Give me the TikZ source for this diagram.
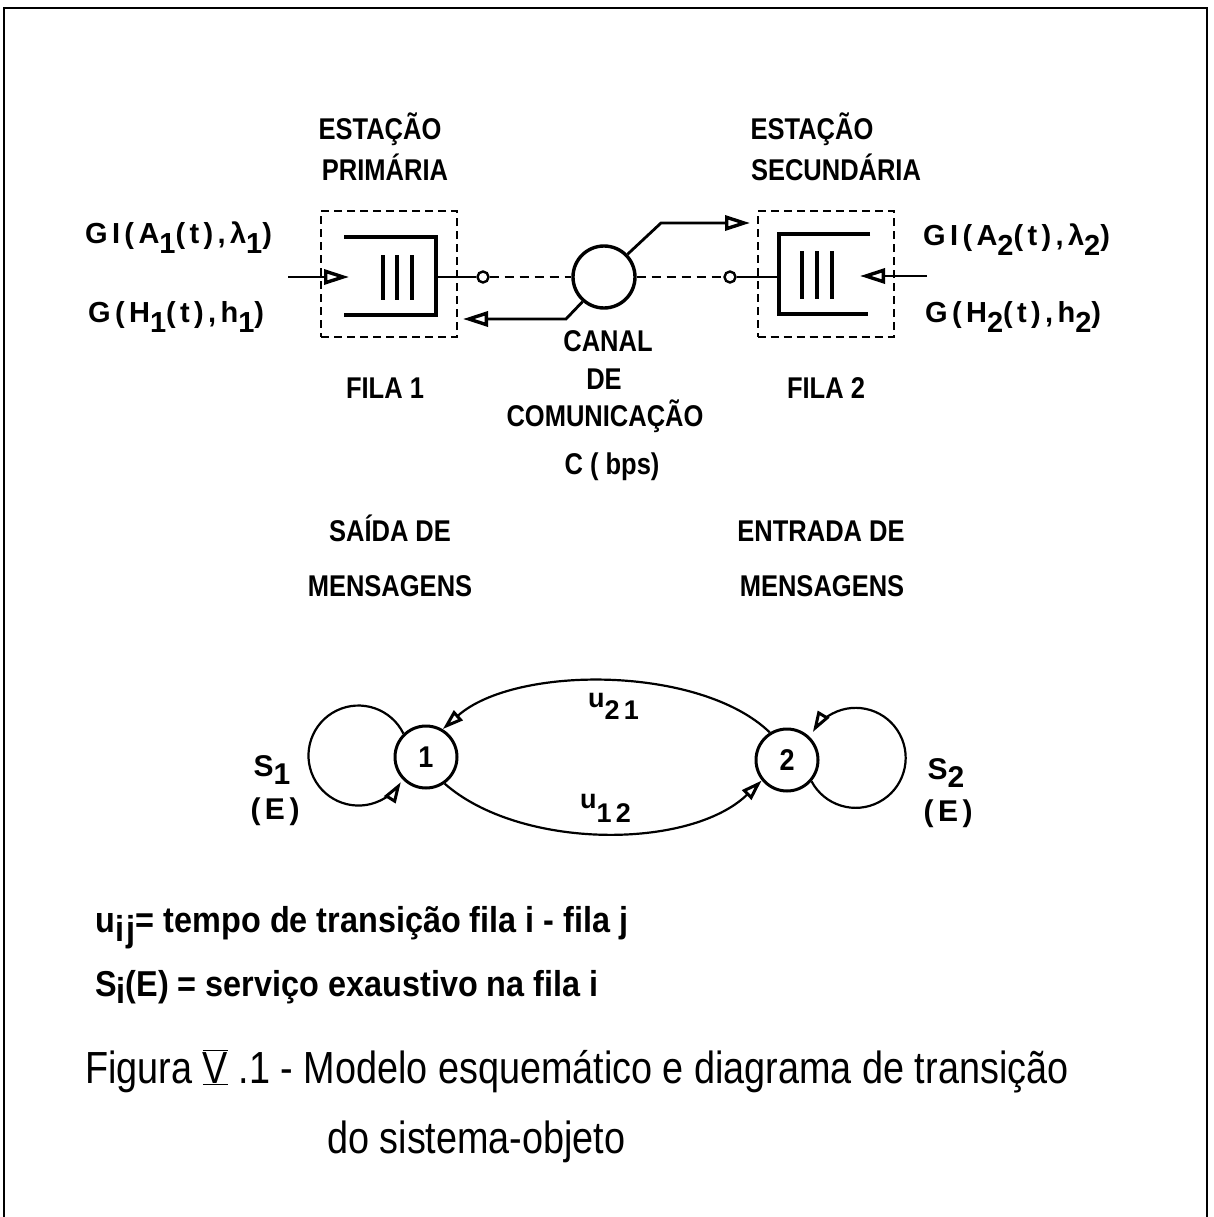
\documentclass[tikz,border=0pt]{standalone}
\usepackage{fontspec}
\setmainfont{Liberation Sans}
\newfontfamily\capsf[FakeStretch=0.85]{Liberation Sans}
\newfontfamily\labf[LetterSpace=15]{Liberation Sans}
\newfontfamily\legf[FakeStretch=0.9]{Liberation Sans}
\newfontfamily\capf[FakeStretch=0.84]{Liberation Sans}
\usetikzlibrary{arrows.meta}
\newcommand\lowr[2][10pt]{\raisebox{-#1}{#2}}
\tikzset{
  frameline/.style={line width=2.2pt},
  dashbox/.style={draw, dash pattern=on 8pt off 5pt, line width=2pt, minimum width=136pt, minimum height=126pt, inner sep=0pt},
  qline/.style={line width=3.4pt},
  thinl/.style={line width=2.8pt},
  statel/.style={line width=2.2pt},
  smallc/.style={circle, draw, line width=2.4pt, fill=white, minimum size=11pt, inner sep=0pt},
  chan/.style={circle, draw, line width=3.4pt, minimum size=62pt, inner sep=0pt},
  state/.style={circle, draw, line width=3pt, minimum size=62pt, inner sep=0pt, font=\legf\bfseries\fontsize{30pt}{34pt}\selectfont},
  arr/.style={-{Triangle[open, fill=white, length=25pt, width=15pt, line width=3.4pt]}},
  sarr/.style={-{Triangle[open, fill=white, length=21pt, width=13pt, line width=3pt]}},
  capl/.style={font=\capsf\bfseries\fontsize{30pt}{34pt}\selectfont, inner sep=0pt, anchor=base},
  labl/.style={font=\labf\bfseries\fontsize{29pt}{33pt}\selectfont, inner sep=0pt, anchor=base west},
  legl/.style={font=\legf\bfseries\fontsize{36pt}{40pt}\selectfont, inner sep=0pt, anchor=base west},
  capt/.style={font=\capf\fontsize{45pt}{50pt}\selectfont, inner sep=0pt, anchor=base west},
}
\begin{document}
\begin{tikzpicture}[x=1pt,y=1pt]
\useasboundingbox (0,-1217) rectangle (1213,0);
\draw[frameline] (4,-1217) -- (4,-8) -- (1207,-8) -- (1207,-1217);

% titles
\node[capl] (t1a) at (380,-140) {ESTAÇÃO};
\node[capl] (t1b) at (385,-181) {PRIMÁRIA};
\node[capl] (t2a) at (812,-140) {ESTAÇÃO};
\node[capl] (t2b) at (836,-181) {SECUNDÁRIA};

% boxes
\node[dashbox] (box1) at (389,-274) {};
\node[dashbox] (box2) at (825.5,-274) {};

% queue 1
\draw[qline] (344,-237) -- (436,-237) -- (436,-315) -- (344,-315);
\foreach \xx in {383,397,412} \draw[qline] (\xx,-255) -- (\xx,-300);
% queue 2
\draw[qline] (870,-234) -- (779,-234) -- (779,-314) -- (868,-314);
\foreach \xx in {802,817,832} \draw[qline] (\xx,-251) -- (\xx,-299);

% channel
\node[chan] (ch) at (604,-277) {};
\node[smallc] (o1) at (483,-277) {};
\node[smallc] (o2) at (730,-277) {};
\coordinate (q1out) at (436,-277);
\coordinate (q2in) at (779,-277);
\draw[thinl] (q1out) -- (o1);
\draw[thinl] (o2) -- (q2in);
\draw[line width=2.4pt, dash pattern=on 9pt off 6pt] (o1) -- (ch);
\draw[line width=2.4pt, dash pattern=on 9pt off 6pt] (ch) -- (o2);

\coordinate (in1) at (288,-277);
\coordinate (in1e) at (349,-277);
\draw[thinl, arr] (in1) -- (in1e);
\coordinate (in2) at (927,-276);
\coordinate (in2e) at (860,-276);
\draw[thinl, arr] (in2) -- (in2e);

\coordinate (up1) at (661,-223);
\coordinate (up2) at (750,-223);
\draw[thinl, arr] (ch.44) -- (up1) -- (up2);
\coordinate (dn1) at (566,-319);
\coordinate (dn2) at (463,-319);
\draw[thinl, arr] (ch.229) -- (dn1) -- (dn2);

% process labels
\node[labl] (g1) at (85,-243) {GI(A\lowr{1}(t),λ\lowr{1})};
\node[labl] (h1) at (88,-322) {G(H\lowr{1}(t),h\lowr{1})};
\node[labl] (g2) at (923,-245) {GI(A\lowr{2}(t),λ\lowr{2})};
\node[labl] (h2) at (925,-322) {G(H\lowr{2}(t),h\lowr{2})};

\node[capl] (f1) at (385,-398) {FILA 1};
\node[capl] (f2) at (826,-398) {FILA 2};
\node[capl] (c1) at (608,-351) {CANAL};
\node[capl] (c2) at (604,-389) {DE};
\node[capl] (c3) at (605,-426) {COMUNICAÇÃO};
\node[capl] (c4) at (612,-474) {C ( bps)};

\node[capl] (sa) at (390,-541) {SAÍDA DE};
\node[capl] (sb) at (390,-596) {MENSAGENS};
\node[capl] (ea) at (821,-541) {ENTRADA DE};
\node[capl] (eb) at (822,-596) {MENSAGENS};

% transition diagram
\node[state] (s1) at (426,-757) {1};
\node[state] (s2) at (787,-760) {2};
\draw[statel, sarr] (s2.122) .. controls (700,-665) and (515,-665) .. (s1.59);
\draw[statel, sarr] (s1.-55) .. controls (520,-850) and (690,-850) .. (s2.219);
\draw[statel, sarr] (s1.134) arc[start angle=26, end angle=328, radius=50pt];
\draw[statel, sarr] (s2.-41) arc[start angle=208, end angle=509, radius=50pt];

\node[labl, anchor=base west, font=\labf\bfseries\fontsize{27pt}{30pt}\selectfont] (u21) at (588,-707) {u\lowr[12pt]{21}};
\node[labl, anchor=base west, font=\labf\bfseries\fontsize{27pt}{30pt}\selectfont] (u12) at (580,-808) {u\lowr[14pt]{12}};
\node[labl, anchor=base, font=\labf\bfseries\fontsize{30pt}{33pt}\selectfont] (S1) at (272,-776) {S\lowr[8pt]{1}};
\node[labl, anchor=base, font=\labf\bfseries\fontsize{30pt}{33pt}\selectfont] (E1) at (275,-819) {(E)};
\node[labl, anchor=base, font=\labf\bfseries\fontsize{30pt}{33pt}\selectfont] (S2) at (946,-779) {S\lowr[8pt]{2}};
\node[labl, anchor=base, font=\labf\bfseries\fontsize{30pt}{33pt}\selectfont] (E2) at (948,-821) {(E)};

% legend
\node[legl] (l1) at (95,-932) {u\lowr[9pt]{\kern1pt i\kern2pt j}= tempo de transição fila i - fila j};
\node[legl] (l2) at (95,-996) {S\lowr[7pt]{i}(E) = serviço exaustivo na fila i};
\node[capt] (cap1) at (85,-1083) {Figura \(\overline{\underline{\hbox{V}}}\) .1 - Modelo esquemático e diagrama de transição};
\node[capt] (cap2) at (327,-1153) {do sistema-objeto};
\end{tikzpicture}
\end{document}
